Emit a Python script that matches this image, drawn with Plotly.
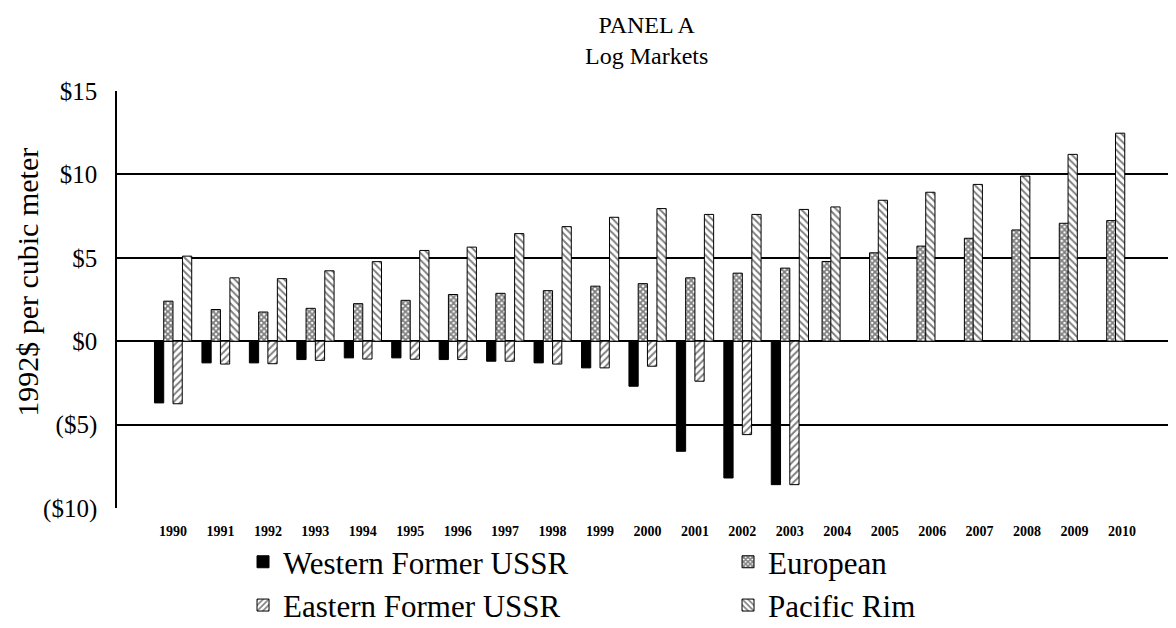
import plotly.graph_objects as go

years = list(range(1990, 2011))
western = [-3.7, -1.3, -1.3, -1.1, -1.0, -1.0, -1.1, -1.2, -1.3, -1.6, -2.7, -6.6, -8.2, -8.6,
           None, None, None, None, None, None, None]
european = [2.4, 1.9, 1.75, 1.97, 2.25, 2.45, 2.8, 2.87, 3.03, 3.3, 3.45, 3.8, 4.08, 4.38,
            4.78, 5.3, 5.7, 6.17, 6.67, 7.07, 7.23]
eastern = [-3.75, -1.37, -1.35, -1.15, -1.07, -1.08, -1.1, -1.2, -1.37, -1.6, -1.5, -2.4, -5.6, -8.6,
           None, None, None, None, None, None, None]
pacific = [5.1, 3.8, 3.75, 4.22, 4.77, 5.44, 5.64, 6.45, 6.87, 7.43, 7.95, 7.6, 7.6, 7.9,
           8.05, 8.45, 8.93, 9.4, 9.9, 11.2, 12.47]
y_tickvals = [15, 10, 5, 0, -5, -10]
y_ticktext = ["$15", "$10", "$5", "$0", "($5)", "($10)"]

W = 0.195
full = [w is not None for w in western]
off_w = [-0.39] * len(years)
off_eu = [-0.195 if f else -0.32 for f in full]
off_ea = [0.0] * len(years)
off_pa = [0.2 if f else -0.135 for f in full]

FONT = "Liberation Serif"
line = dict(color="black", width=1)

fig = go.Figure()
fig.add_trace(go.Bar(x=years, y=western, name="Western Former USSR", offset=off_w, width=W,
                     marker=dict(color="black", line=line)))
fig.add_trace(go.Bar(x=years, y=european, name="European", offset=off_eu, width=W,
                     marker=dict(color="white", line=line,
                                 pattern=dict(shape="x", fgcolor="black", bgcolor="white",
                                              size=4, solidity=0.7))))
fig.add_trace(go.Bar(x=years, y=eastern, name="Eastern Former USSR", offset=off_ea, width=W,
                     marker=dict(color="white", line=line,
                                 pattern=dict(shape="/", fgcolor="black", bgcolor="white",
                                              size=5, solidity=0.4))))
fig.add_trace(go.Bar(x=years, y=pacific, name="Pacific Rim", offset=off_pa, width=W,
                     marker=dict(color="white", line=line,
                                 pattern=dict(shape="\\", fgcolor="black", bgcolor="white",
                                              size=5, solidity=0.4))))

fig.update_layout(
    width=1168, height=620,
    margin=dict(l=109, r=0, t=83, b=120, autoexpand=False),
    barmode="overlay",
    plot_bgcolor="white", paper_bgcolor="white",
    font=dict(family=FONT, color="black"),
    xaxis=dict(range=[1988.82, 2011.14], tickvals=years, ticktext=[str(y) for y in years],
               showgrid=False, zeroline=False, showline=False, ticks="",
               ticklabelstandoff=13, automargin=False,
               tickfont=dict(size=14, family=FONT, weight="bold", color="black")),
    yaxis=dict(range=[-10, 15], tickvals=y_tickvals, ticktext=y_ticktext,
               showgrid=True, gridcolor="black", gridwidth=1.5,
               zeroline=True, zerolinecolor="black", zerolinewidth=1.5,
               showline=True, linecolor="black", linewidth=1.5,
               ticks="", ticklabelstandoff=13, automargin=False,
               tickfont=dict(size=25, family=FONT, color="black")),
    legend=dict(orientation="h", x=0.119, xanchor="left", y=-0.065, yanchor="top",
                entrywidth=440, entrywidthmode="pixels",
                font=dict(size=31, family=FONT, color="black"),
                bgcolor="rgba(0,0,0,0)", traceorder="normal"),
    showlegend=True,
    annotations=[
        dict(text="PANEL A<br>Log Markets", xref="paper", yref="paper", x=0.5, y=1.1223,
             xanchor="center", yanchor="middle", showarrow=False, align="center",
             font=dict(size=24, family=FONT, color="black")),
        dict(text="1992$ per cubic meter", xref="paper", yref="paper", x=-0.084, y=0.54,
             xanchor="center", yanchor="middle", textangle=-90, showarrow=False,
             font=dict(size=30, family=FONT, color="black")),
    ],
)

fig.write_html("out.html")
